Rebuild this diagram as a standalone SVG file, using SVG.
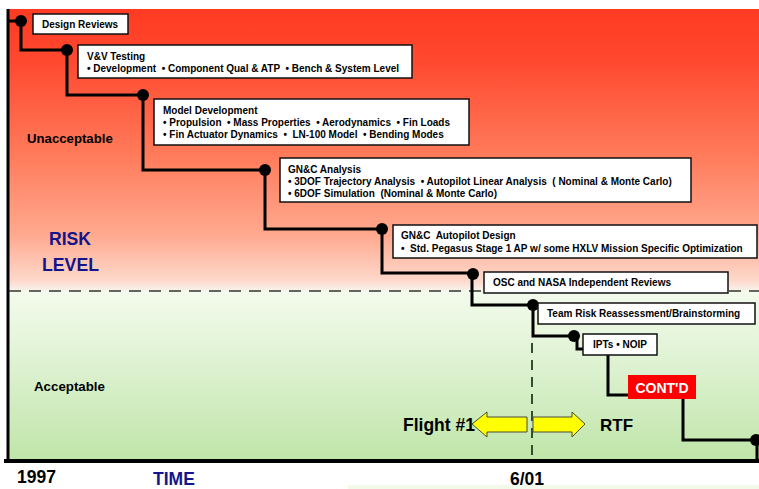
<svg xmlns="http://www.w3.org/2000/svg" width="759" height="489" viewBox="0 0 759 489">
<defs>
<linearGradient id="bg" gradientUnits="userSpaceOnUse" x1="0" y1="9" x2="0" y2="461">
<stop offset="0" stop-color="#ff3a22"/>
<stop offset="0.12" stop-color="#ff4a30"/>
<stop offset="0.32" stop-color="#ff7a5a"/>
<stop offset="0.5" stop-color="#ffa98f"/>
<stop offset="0.6" stop-color="#fdd8ca"/>
<stop offset="0.615" stop-color="#fbe9e0"/>
<stop offset="0.627" stop-color="#f3fbec"/>
<stop offset="0.8" stop-color="#dcf1cf"/>
<stop offset="1" stop-color="#bfe5a8"/>
</linearGradient>
<style>
.box{fill:#fff;stroke:#111;stroke-width:1.5}
.t{font-family:"Liberation Sans",Arial,sans-serif;font-weight:bold;font-size:10px;fill:#000;white-space:pre}
.lbl{font-family:"Liberation Sans",Arial,sans-serif;font-weight:bold;fill:#000}
.blue{fill:#14148c}
.step{fill:none;stroke:#000;stroke-width:3;stroke-linejoin:miter}
.dot{fill:#000}
.arr{fill:#ffff00;stroke:#4a4a3a;stroke-width:1}
</style>
</defs>
<rect x="0" y="0" width="759" height="489" fill="#fff"/>
<rect x="8" y="9" width="751" height="452" fill="url(#bg)"/>
<rect x="348" y="485" width="411" height="4" fill="#f2faec"/>
<g id="axes">
<line x1="8" y1="9" x2="8" y2="462" stroke="#000" stroke-width="3"/>
<line x1="4" y1="461" x2="759" y2="461" stroke="#000" stroke-width="4"/>
<line x1="9" y1="291" x2="759" y2="291" stroke="#333" stroke-width="1.5" stroke-dasharray="12 8"/>
<line x1="532" y1="343" x2="532" y2="457" stroke="#2f4f2f" stroke-width="2" stroke-dasharray="10 7"/>
</g>
<g id="connectors">
<path class="step" d="M8,21 H21 V50 H67 V95 H143 V170 H265 V229 H382 V273 H472 V305 H533 V336 H577 V349 H585"/>
<path class="step" d="M608,354 V395 H629"/>
<path class="step" d="M683,399 V440 H757 V461"/>
<circle class="dot" cx="21" cy="21" r="6"/>
<circle class="dot" cx="67" cy="50" r="6"/>
<circle class="dot" cx="143" cy="95" r="6"/>
<circle class="dot" cx="265" cy="170" r="6"/>
<circle class="dot" cx="382" cy="229" r="6"/>
<circle class="dot" cx="473" cy="274" r="6"/>
<circle class="dot" cx="533" cy="305" r="6"/>
<circle class="dot" cx="574" cy="336" r="6"/>
<circle class="dot" cx="756" cy="440" r="6"/>
</g>
<g id="design-reviews">
<rect class="box" x="33" y="14" width="95" height="20"/>
<text class="t" x="42" y="28">Design Reviews</text>
</g>
<g id="vv-testing">
<rect class="box" x="78" y="45" width="334" height="33"/>
<text class="t" x="87" y="60">V&amp;V Testing</text>
<text class="t" x="87" y="72">• Development  • Component Qual &amp; ATP  • Bench &amp; System Level</text>
</g>
<g id="model-development">
<rect class="box" x="154" y="99" width="315" height="46"/>
<text class="t" x="163" y="114">Model Development</text>
<text class="t" x="163" y="126">• Propulsion  • Mass Properties  • Aerodynamics  • Fin Loads</text>
<text class="t" x="163" y="138">• Fin Actuator Dynamics  •  LN-100 Model  • Bending Modes</text>
</g>
<g id="gnc-analysis">
<rect class="box" x="280" y="158" width="411" height="44"/>
<text class="t" x="288" y="173">GN&amp;C Analysis</text>
<text class="t" x="288" y="185">• 3DOF Trajectory Analysis  • Autopilot Linear Analysis  ( Nominal &amp; Monte Carlo)</text>
<text class="t" x="288" y="197">• 6DOF Simulation  (Nominal &amp; Monte Carlo)</text>
</g>
<g id="gnc-autopilot">
<rect class="box" x="393" y="225" width="364" height="33"/>
<text class="t" x="401" y="239">GN&amp;C  Autopilot Design</text>
<text class="t" x="401" y="252">•  Std. Pegasus Stage 1 AP w/ some HXLV Mission Specific Optimization</text>
</g>
<g id="osc-nasa">
<rect class="box" x="484" y="272" width="244" height="21"/>
<text class="t" x="493" y="286">OSC and NASA Independent Reviews</text>
</g>
<g id="team-risk">
<rect class="box" x="538" y="303" width="217" height="21"/>
<text class="t" x="547" y="317">Team Risk Reassessment/Brainstorming</text>
</g>
<g id="ipts">
<rect class="box" x="583" y="334" width="74" height="21"/>
<text class="t" x="593" y="348">IPTs • NOIP</text>
</g>
<g id="contd">
<rect x="628" y="375" width="68" height="24" fill="#ff0000"/>
<text class="lbl" x="662" y="393" font-size="14" text-anchor="middle" style="fill:#fff">CONT'D</text>
</g>
<g id="flight-arrows">
<polygon class="arr" points="472,424 487,412 487,417 527,417 527,432 487,432 487,437"/>
<polygon class="arr" points="533,417 572,417 572,412 585,424 572,437 572,432 533,432"/>
<text class="lbl" x="403" y="431" font-size="17.5">Flight #1</text>
<text class="lbl" x="600" y="431" font-size="17">RTF</text>
</g>
<g id="labels">
<text class="lbl" x="27" y="143" font-size="13.2">Unacceptable</text>
<text class="lbl blue" x="49" y="245" font-size="17.6">RISK</text>
<text class="lbl blue" x="42" y="271" font-size="17.7">LEVEL</text>
<text class="lbl" x="34" y="391" font-size="13.3">Acceptable</text>
<text class="lbl" x="17" y="483" font-size="17.5">1997</text>
<text class="lbl blue" x="153" y="485" font-size="17.5">TIME</text>
<text class="lbl" x="510" y="485" font-size="17.5">6/01</text>
</g>
</svg>
